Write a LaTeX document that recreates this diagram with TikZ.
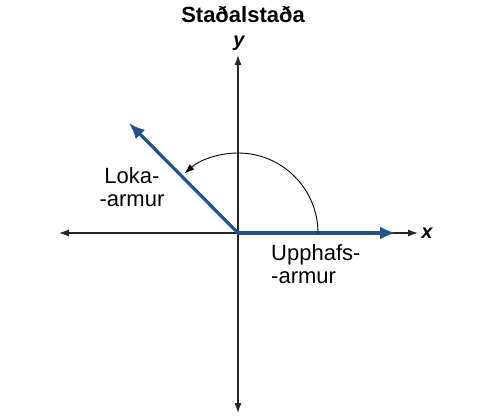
\documentclass[tikz,border=0pt]{standalone}
\usepackage{fontspec}
\setmainfont{Liberation Sans}
\usetikzlibrary{arrows.meta}
\definecolor{rayblue}{RGB}{33,82,140}
\tikzset{
  axis/.style={draw=black!85, line width=1.1pt, -{Latex[length=10pt,width=7pt]}},
  ray/.style={draw=rayblue, line width=3.2pt, -{Latex[length=16pt,width=13pt]}},
  lbl/.style={font=\fontsize{22}{23}\selectfont, inner sep=0pt},
  axlbl/.style={font=\fontsize{20}{22}\selectfont\bfseries\itshape, inner sep=0pt},
}
\begin{document}
\begin{tikzpicture}[x=1pt,y=-1pt]
\useasboundingbox (0,0) rectangle (487,417);
\coordinate (O) at (238,233);
\coordinate (L) at (59,233);
\coordinate (R) at (418,233);
\coordinate (T) at (238,55);
\coordinate (B) at (238,413);
\coordinate (Rt) at (396,233);
\coordinate (Tt) at (129,123);
\draw[axis] (O) -- (L);
\draw[axis] (O) -- (R);
\draw[axis] (O) -- (T);
\draw[axis] (O) -- (B);
\draw[ray] (O) -- (Rt);
\draw[ray] (O) -- (Tt);
\draw[black, line width=0.9pt, -{Latex[length=10pt,width=7pt]}] (318,233) arc[start angle=0, end angle=-132, radius=80];
\node[axlbl] (xl) at (427,233) {x};
\node[axlbl] (yl) at (239,43) {y};
\node[font=\fontsize{22}{24}\selectfont\bfseries, inner sep=0pt] (title) at (243,15) {Staðalstaða};
\node[lbl, align=center] (loka) at (132,187) {Loka-\\-armur};
\node[lbl, align=left, anchor=north west] (upp) at (271,244) {Upphafs-\\-armur};
\end{tikzpicture}
\end{document}
